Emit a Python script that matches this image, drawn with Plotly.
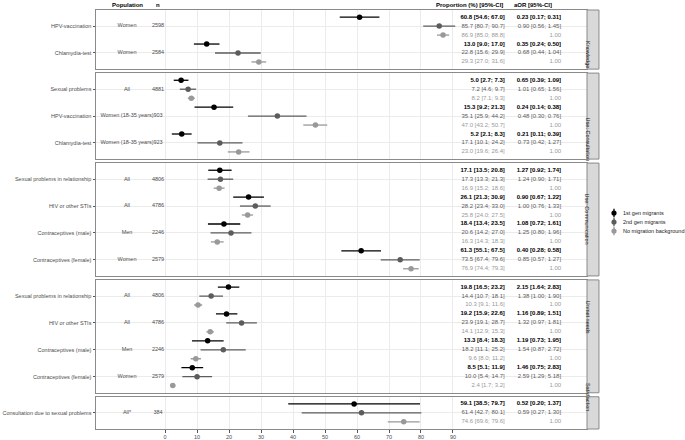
import plotly.graph_objects as go
from plotly.subplots import make_subplots

facets = ["Knowledge", "Use: Consultation", "Use: Communication", "Unmet needs", "Satisfaction"]
groups = ["1st gen migrants", "2nd gen migrants", "No migration background"]

# one entry per outcome (row block)
facet_of = [0, 0, 1, 1, 1, 2, 2, 2, 2, 3, 3, 3, 3, 4]
categories = ["HPV-vaccination", "Chlamydia-test",
              "Sexual problems", "HPV-vaccination", "Chlamydia-test",
              "Sexual problems in relationship", "HIV or other STIs", "Contraceptives (male)", "Contraceptives (female)",
              "Sexual problems in relationship", "HIV or other STIs", "Contraceptives (male)", "Contraceptives (female)",
              "Consultation due to sexual problems"]
population = ["Women", "Women", "All", "Women (18-35 years)", "Women (18-35 years)",
              "All", "All", "Men", "Women", "All", "All", "Men", "Women", "All*"]
n_obs = [2598, 2584, 4881, 903, 923, 4806, 4786, 2246, 2579, 4806, 4786, 2246, 2579, 384]

# proportions (%) with 95%-CI
prop_1st = [60.8, 13.0, 5.0, 15.3, 5.2, 17.1, 26.1, 18.4, 61.3, 19.8, 19.2, 13.3, 8.5, 59.1]
lo_1st = [54.6, 9.0, 2.7, 9.2, 2.1, 13.5, 21.3, 13.4, 55.1, 16.5, 15.9, 8.4, 5.1, 38.5]
hi_1st = [67.0, 17.0, 7.3, 21.3, 8.3, 20.8, 30.9, 23.5, 67.5, 23.2, 22.6, 18.3, 11.9, 79.7]

prop_2nd = [85.7, 22.8, 7.2, 35.1, 17.1, 17.3, 28.2, 20.6, 73.5, 14.4, 23.9, 18.2, 10.0, 61.4]
lo_2nd = [80.7, 15.6, 4.6, 25.9, 10.1, 13.3, 23.4, 14.2, 67.4, 10.7, 19.1, 11.1, 5.4, 42.7]
hi_2nd = [90.7, 29.9, 9.7, 44.2, 24.2, 21.3, 33.0, 27.0, 79.6, 18.1, 28.7, 25.2, 14.7, 80.1]

prop_none = [86.9, 29.3, 8.2, 47.0, 23.0, 16.9, 25.8, 16.3, 76.9, 10.3, 14.1, 9.6, 2.4, 74.6]
lo_none = [85.0, 27.0, 7.1, 43.2, 19.6, 15.2, 24.0, 14.3, 74.4, 9.1, 12.9, 8.0, 1.7, 69.6]
hi_none = [88.8, 31.6, 9.3, 50.7, 26.4, 18.6, 27.5, 18.3, 79.3, 11.6, 15.3, 11.2, 3.2, 79.6]

# adjusted odds ratios with 95%-CI (reference: no migration background)
aor_1st = [0.23, 0.35, 0.65, 0.24, 0.21, 1.27, 0.90, 1.08, 0.40, 2.15, 1.16, 1.19, 1.46, 0.52]
aor_lo_1st = [0.17, 0.24, 0.39, 0.14, 0.11, 0.92, 0.67, 0.72, 0.28, 1.64, 0.89, 0.73, 0.75, 0.20]
aor_hi_1st = [0.31, 0.50, 1.09, 0.38, 0.39, 1.74, 1.22, 1.61, 0.58, 2.83, 1.51, 1.95, 2.83, 1.37]

aor_2nd = [0.90, 0.68, 1.01, 0.48, 0.73, 1.24, 1.00, 1.25, 0.85, 1.38, 1.32, 1.54, 2.59, 0.59]
aor_lo_2nd = [0.56, 0.44, 0.65, 0.30, 0.42, 0.90, 0.76, 0.80, 0.57, 1.00, 0.97, 0.87, 1.29, 0.27]
aor_hi_2nd = [1.45, 1.04, 1.56, 0.76, 1.27, 1.71, 1.33, 1.96, 1.27, 1.90, 1.81, 2.72, 5.18, 1.30]

x_ticks = [0, 10, 20, 30, 40, 50, 60, 70, 80, 90]

props = [(prop_1st, lo_1st, hi_1st), (prop_2nd, lo_2nd, hi_2nd), (prop_none, lo_none, hi_none)]
aors = [(aor_1st, aor_lo_1st, aor_hi_1st), (aor_2nd, aor_lo_2nd, aor_hi_2nd), None]

colors = ["#000000", "#5c5c5c", "#999999"]
FONT = "Liberation Sans, Arial, sans-serif"
GRID = "#ebebeb"
BORDER = "#8a8a8a"

W, H = 685, 440
ML, MR, MT, MB = 96, 98, 10, 11
PW, PH = W - ML - MR, H - MT - MB

# text column positions (data units on the x axis)
X_POP, X_N, X_PROP, X_AOR = -11.9, -2.2, 106.2, 123.8
X_RANGE = [-21.6, 131.9]
PAD = 0.8

n_rows = [3 * facet_of.count(f) for f in range(len(facets))]
heights = [r - 1 + 2 * PAD for r in n_rows]

fig = make_subplots(rows=len(facets), cols=1, shared_xaxes=True,
                    row_heights=heights, vertical_spacing=0.0095)

for f in range(len(facets)):
    idx = [i for i in range(len(categories)) if facet_of[i] == f]
    k = len(idx)
    centers = [-(3 * j + 1) for j in range(k)]
    for g in range(3):
        est, lo, hi = props[g]
        ys = [-(3 * j + g) for j in range(k)]
        v = [est[i] for i in idx]
        fig.add_trace(go.Scatter(
            x=v, y=ys, mode="markers", name=groups[g], showlegend=False,
            marker=dict(color=colors[g], size=5.5),
            error_x=dict(type="data", symmetric=False,
                         array=[hi[i] - est[i] for i in idx],
                         arrayminus=[est[i] - lo[i] for i in idx],
                         color=colors[g], thickness=1.3, width=0),
        ), row=f + 1, col=1)

        ptxt = ["%.1f [%.1f; %.1f]" % (est[i], lo[i], hi[i]) for i in idx]
        if aors[g] is None:
            atxt = ["1.00"] * k
        else:
            a, al, ah = aors[g]
            atxt = ["%.2f [%.2f; %.2f]" % (a[i], al[i], ah[i]) for i in idx]
        if g == 0:
            ptxt = ["<b>%s</b>" % t for t in ptxt]
            atxt = ["<b>%s</b>" % t for t in atxt]
        for xpos, txt in [(X_PROP, ptxt), (X_AOR, atxt)]:
            fig.add_trace(go.Scatter(
                x=[xpos] * k, y=ys, mode="text", text=txt, textposition="middle left",
                textfont=dict(family=FONT, size=6, color=colors[g]),
                showlegend=False, hoverinfo="skip", cliponaxis=False,
            ), row=f + 1, col=1)

    for xpos, txt in [(X_POP, [population[i] for i in idx]), (X_N, [str(n_obs[i]) for i in idx])]:
        fig.add_trace(go.Scatter(
            x=[xpos] * k, y=centers, mode="text", text=txt, textposition="middle center",
            textfont=dict(family=FONT, size=5.5, color="#4d4d4d"),
            showlegend=False, hoverinfo="skip", cliponaxis=False,
        ), row=f + 1, col=1)

    fig.update_yaxes(range=[-(n_rows[f] - 1) - PAD, PAD], tickvals=centers,
                     ticktext=[categories[i] for i in idx],
                     row=f + 1, col=1)

    # facet strip on the right
    dom = fig.layout["yaxis" if f == 0 else "yaxis%d" % (f + 1)].domain
    fig.add_shape(type="rect", xref="paper", yref="paper", x0=1.0, x1=1.0244,
                  y0=dom[0], y1=dom[1], fillcolor="#d9d9d9",
                  line=dict(color=BORDER, width=1))
    fig.add_annotation(xref="paper", yref="paper", x=1.0122, y=(dom[0] + dom[1]) / 2,
                       text=facets[f], textangle=90, showarrow=False,
                       font=dict(family=FONT, size=5.5, color="#1a1a1a"))

fig.update_xaxes(range=X_RANGE, tickvals=x_ticks, showgrid=True, gridcolor=GRID, gridwidth=0.8,
                 zeroline=False, showline=True, mirror=True, linecolor=BORDER, linewidth=1,
                 ticks="", showticklabels=False, automargin=False)
fig.update_xaxes(ticks="outside", ticklen=2.5, tickcolor="#555555", showticklabels=True,
                 tickfont=dict(family=FONT, size=5.5, color="#4d4d4d"), row=len(facets), col=1)
fig.update_yaxes(showgrid=True, gridcolor=GRID, gridwidth=0.8, zeroline=False,
                 showline=True, mirror=True, linecolor=BORDER, linewidth=1,
                 ticks="outside", ticklen=2.5, tickcolor="#555555", automargin=False,
                 tickfont=dict(family=FONT, size=5.5, color="#4d4d4d"))

headers = [("Population", X_POP, "center"), ("n", X_N, "center"),
           ("Proportion (%) [95%-CI]", X_PROP, "right"), ("aOR [95%-CI]", 108.4, "left")]
for txt, xpos, anchor in headers:
    fig.add_annotation(xref="x", yref="paper", x=xpos, y=1.012, yanchor="middle",
                       xanchor=anchor, text="<b>%s</b>" % txt, showarrow=False,
                       font=dict(family=FONT, size=6, color="#000000"))

# legend drawn by hand: point with a short vertical range line, like the R key glyph
for g, name in enumerate(groups):
    py = 213 + 9 * g
    cx = (614 - ML) / PW
    cy = (H - MB - py) / PH
    fig.add_shape(type="line", xref="paper", yref="paper", x0=cx, x1=cx,
                  y0=cy - 4.2 / PH, y1=cy + 4.2 / PH, line=dict(color=colors[g], width=1.3))
    fig.add_shape(type="circle", xref="paper", yref="paper",
                  x0=cx - 2.6 / PW, x1=cx + 2.6 / PW, y0=cy - 2.6 / PH, y1=cy + 2.6 / PH,
                  fillcolor=colors[g], line=dict(color=colors[g], width=0))
    fig.add_annotation(xref="paper", yref="paper", x=(621 - ML) / PW, y=cy,
                       xanchor="left", yanchor="middle", text=name, showarrow=False,
                       font=dict(family=FONT, size=5.5, color="#1a1a1a"))

fig.update_layout(
    template="none",
    width=W, height=H,
    margin=dict(l=ML, r=MR, t=MT, b=MB),
    paper_bgcolor="white", plot_bgcolor="white",
    font=dict(family=FONT, size=5.5, color="#1a1a1a"),
    showlegend=False,
)

fig.write_html("out.html", config={"displayModeBar": False},
               post_script="document.body.style.margin='0';")
